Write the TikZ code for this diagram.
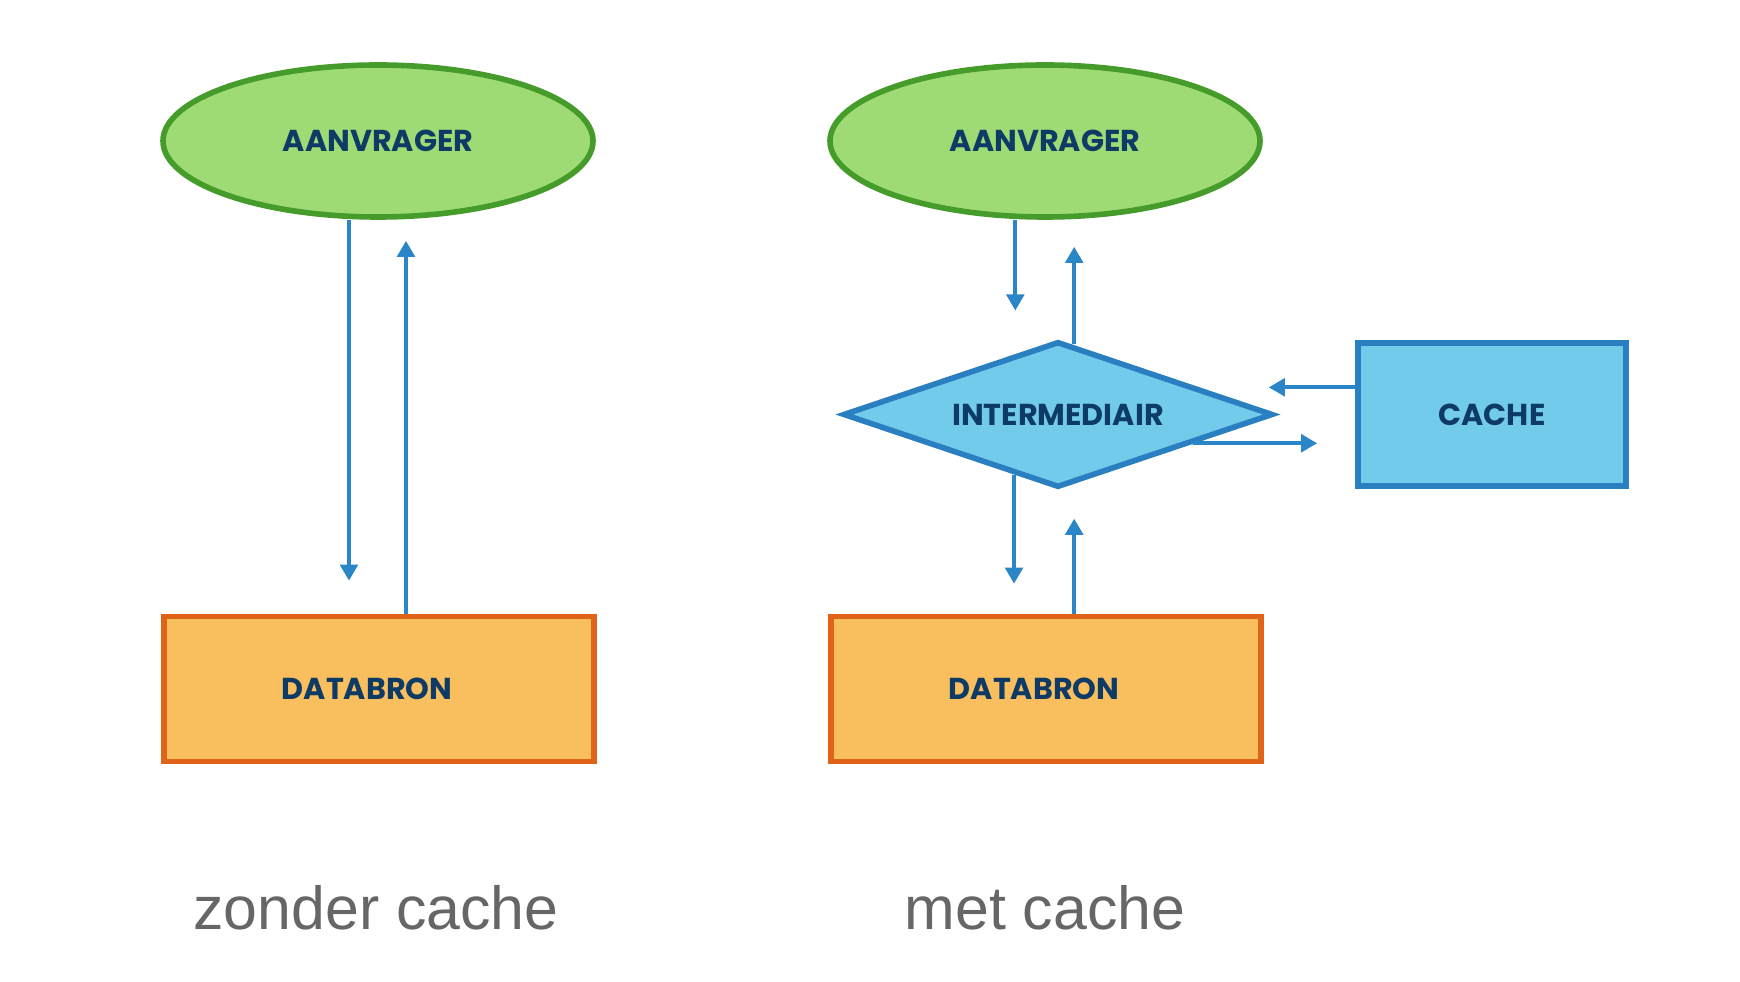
\documentclass[tikz,border=0pt]{standalone}
\usepackage{fontspec}
\setmainfont{Liberation Sans}
\newfontfamily\schetsfont{Poppins}
\usetikzlibrary{shapes.geometric,arrows.meta}
\definecolor{groenvul}{HTML}{9FDB74}
\definecolor{groenrand}{HTML}{459C2A}
\definecolor{oranjevul}{HTML}{F9BE5E}
\definecolor{oranjerand}{HTML}{E0631A}
\definecolor{blauwvul}{HTML}{72CBEA}
\definecolor{blauwrand}{HTML}{2A7FC0}
\definecolor{pijlblauw}{HTML}{2A86C6}
\definecolor{tekstblauw}{HTML}{0E3A66}
\definecolor{grijs}{HTML}{666666}
\begin{document}
\begin{tikzpicture}[
  label/.style={font=\schetsfont\bfseries\fontsize{8.6}{10}\selectfont, text=tekstblauw, inner sep=0pt},
  aanvrager/.style={label, ellipse, draw=groenrand, fill=groenvul, line width=1.6pt,
    minimum width=4.3cm, minimum height=1.52cm},
  bron/.style={label, rectangle, draw=oranjerand, fill=oranjevul, line width=1.6pt,
    minimum width=4.3cm, minimum height=1.45cm},
  tussen/.style={label, diamond, aspect=2.95, draw=blauwrand, fill=blauwvul, line width=1.6pt,
    minimum width=4.3cm, minimum height=1.46cm},
  opslag/.style={label, rectangle, draw=blauwrand, fill=blauwvul, line width=1.6pt,
    minimum width=2.68cm, minimum height=1.43cm},
  flow/.style={draw=pijlblauw, line width=1.1pt, -{Triangle[width=5pt,length=4.6pt]}},
  onderschrift/.style={font=\fontsize{17.3}{20}\selectfont, text=grijs, anchor=base}
]
  % vaste afmetingen van de figuur
  \useasboundingbox (0,0) rectangle (17.40,-9.82);

  % links: zonder cache
  \node[aanvrager] (aanvragerA) at (3.78,-1.41) {AANVRAGER};
  \node[bron] (databronA) at (3.79,-6.89) {DATABRON\hspace*{2.4mm}};
  \draw[flow, shorten >=3.3mm] ([xshift=-2.9mm]aanvragerA.south) -- ([xshift=-2.9mm]aanvragerA.south |- databronA.north);
  \draw[flow, shorten >=2.1mm] ([xshift=2.7mm]databronA.north) -- ([xshift=2.7mm]databronA.north |- aanvragerA.south);

  % rechts: met cache
  \node[aanvrager] (aanvragerB) at (10.45,-1.41) {AANVRAGER};
  \node[tussen] (intermediair) at (10.58,-4.145) {INTERMEDIAIR};
  \node[opslag] (cache) at (14.92,-4.145) {CACHE};
  \node[bron] (databronB) at (10.46,-6.89) {DATABRON\hspace*{2.4mm}};

  % aanvrager <-> intermediair
  \draw[flow, shorten >=4.3mm] (intermediair.125.6 |- aanvragerB.south) -- (intermediair.125.6);
  \draw[flow, shorten >=2.7mm] (intermediair.77.5) -- (intermediair.77.5 |- aanvragerB.south);
  % intermediair <-> databron
  \draw[flow, shorten >=3mm] (intermediair.234.4) -- (intermediair.234.4 |- databronB.north);
  \draw[flow, shorten >=3.4mm] (intermediair.-77.5 |- databronB.north) -- (intermediair.-77.5);
  % intermediair <-> cache
  \draw[flow, shorten >=7.1mm] (intermediair.11.6 -| cache.west) -- (intermediair.11.6);
  \draw[flow, shorten >=3.8mm] (intermediair.-12.3) -- (intermediair.-12.3 -| cache.west);

  % onderschriften
  \node[onderschrift] (zonder) at (3.76,-9.29) {zonder cache};
  \node[onderschrift] (met) at (10.45,-9.29) {met cache};
\end{tikzpicture}
\end{document}
